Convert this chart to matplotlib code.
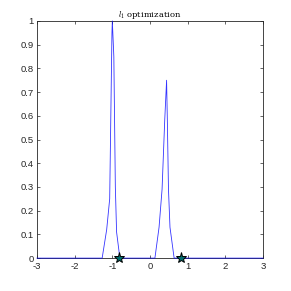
import numpy as np
import matplotlib
matplotlib.use("Agg")
import matplotlib.pyplot as plt

# recovered signal (sparse points)
xs = [-3.0, -1.27, -1.15, -1.07, -1.01, -1.0, -0.96, -0.92, -0.887, -0.80,
      0.13, 0.24, 0.32, 0.39, 0.44, 0.46, 0.49, 0.53, 0.64, 3.0]
ys = [0.0, 0.0, 0.12, 0.25, 0.95, 1.0, 0.85, 0.3, 0.11, 0.0,
      0.0, 0.13, 0.29, 0.58, 0.75, 0.58, 0.29, 0.13, 0.0, 0.0]

# true spike locations
star_x = [-0.81, 0.82]
star_y = [0, 0]

xticks = [-3, -2, -1, 0, 1, 2, 3]
yticks = [0, 0.1, 0.2, 0.3, 0.4, 0.5, 0.6, 0.7, 0.8, 0.9, 1]
ylabels = ['0', '0.1', '0.2', '0.3', '0.4', '0.5', '0.6', '0.7', '0.8', '0.9', '1']

plt.rcParams['mathtext.fontset'] = 'cm'
plt.rcParams['axes.unicode_minus'] = False
plt.rcParams['font.family'] = ['Liberation Sans', 'DejaVu Sans']
fig = plt.figure(figsize=(2.91, 2.91), dpi=100)
ax = fig.add_axes([0.127, 0.113, 0.777, 0.815])

ax.plot(xs, ys, color='b', lw=0.6, alpha=0.8, clip_on=False, zorder=3)
ax.plot(star_x, star_y, '*', ms=8, mfc='#006b6b', mec='k', mew=0.7,
        clip_on=False, zorder=4)

ax.set_xlim(-3, 3)
ax.set_ylim(0, 1)
ax.set_xticks(xticks)
ax.set_yticks(yticks)
ax.set_yticklabels(ylabels)
ax.tick_params(direction='in', length=2.5, width=0.5, labelsize=6.8,
               top=True, right=True, colors='#262626', pad=2.5)
for s in ax.spines.values():
    s.set_linewidth(0.6)
    s.set_color('#262626')

ax.set_title(r'$l_1$ optimization', fontsize=6, family='serif', pad=3)

fig.savefig('out.png', dpi=100)
